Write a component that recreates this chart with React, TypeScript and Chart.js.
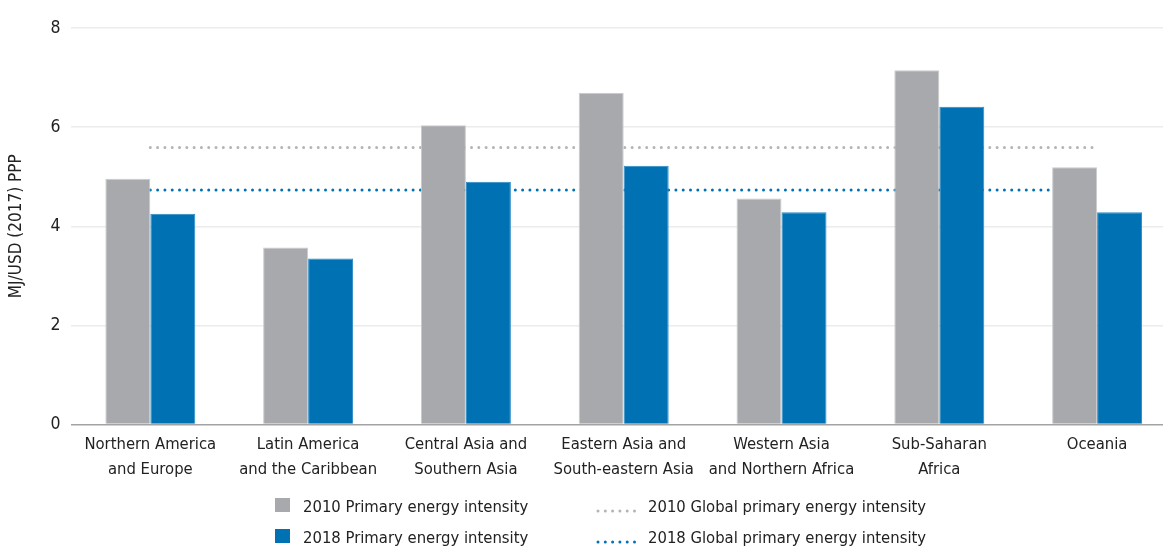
import React, { useEffect, useRef } from "react";
import { Chart, registerables } from "chart.js";

Chart.register(...registerables);

const categories: string[][] = [
  ["Northern America", "and Europe"],
  ["Latin America", "and the Caribbean"],
  ["Central Asia and", "Southern Asia"],
  ["Eastern Asia and", "South-eastern Asia"],
  ["Western Asia", "and Northern Africa"],
  ["Sub-Saharan", "Africa"],
  ["Oceania"],
];

const intensity2010: number[] = [4.96, 3.57, 6.04, 6.69, 4.56, 7.15, 5.19];
const intensity2018: number[] = [4.25, 3.35, 4.9, 5.22, 4.28, 6.41, 4.28];
const global2010: number[] = [5.59, 5.59, 5.59, 5.59, 5.59, 5.59, 5.59];
const global2018: number[] = [4.73, 4.73, 4.73, 4.73, 4.73, 4.73, 4.73];

const yTicks: number[] = [0, 2, 4, 6, 8];

const FONT = '"DejaVu Sans Condensed", "DejaVu Sans", sans-serif';
const GRAY = "#a7a9ac";
const BLUE = "#0072b4";
const DOT_GRAY = "#b4b4b4";
const TEXT = "#222222";

const legendPlugin = {
  id: "customLegend",
  afterDraw(chart: any) {
    const ctx = chart.ctx;
    ctx.save();
    ctx.font = `16.5px ${FONT}`;
    ctx.fillStyle = TEXT;
    ctx.textBaseline = "alphabetic";
    const ds = chart.data.datasets;
    const rows = [512, 543];
    [0, 1].forEach((i, r) => {
      const d = ds[i];
      ctx.fillStyle = d.backgroundColor;
      ctx.fillRect(275, rows[r] - 14, 15, 14);
      ctx.fillStyle = TEXT;
      ctx.fillText(d.label, 303, rows[r]);
    });
    [2, 3].forEach((i, r) => {
      const d = ds[i];
      ctx.save();
      ctx.strokeStyle = d.borderColor;
      ctx.lineWidth = d.borderWidth;
      ctx.lineCap = "round";
      ctx.setLineDash(d.borderDash);
      ctx.beginPath();
      ctx.moveTo(598, rows[r] - 1);
      ctx.lineTo(636, rows[r] - 1);
      ctx.stroke();
      ctx.restore();
      ctx.fillStyle = TEXT;
      ctx.fillText(d.label, 648, rows[r]);
    });
    ctx.restore();
  },
};

export default function App() {
  const ref = useRef<HTMLCanvasElement | null>(null);
  useEffect(() => {
    if (!ref.current) return;
    const chart = new Chart(ref.current, {
      type: "bar",
      data: {
        labels: categories,
        datasets: [
          {
            type: "bar",
            label: "2010 Primary energy intensity",
            data: intensity2010,
            backgroundColor: GRAY,
            borderColor: "#c9cacc",
            borderWidth: 1,
            barPercentage: 1,
            categoryPercentage: 0.57,
            order: 0,
          },
          {
            type: "bar",
            label: "2018 Primary energy intensity",
            data: intensity2018,
            backgroundColor: BLUE,
            borderColor: "#2b8ac4",
            borderWidth: 1,
            barPercentage: 1,
            categoryPercentage: 0.57,
            order: 0,
          },
          {
            type: "line",
            label: "2010 Global primary energy intensity",
            data: global2010,
            borderColor: DOT_GRAY,
            borderWidth: 3,
            borderDash: [0, 7.3],
            borderCapStyle: "round",
            pointRadius: 0,
            fill: false,
            order: 1,
          } as any,
          {
            type: "line",
            label: "2018 Global primary energy intensity",
            data: global2018,
            borderColor: BLUE,
            borderWidth: 3,
            borderDash: [0, 7.3],
            borderCapStyle: "round",
            pointRadius: 0,
            fill: false,
            order: 1,
          } as any,
        ],
      },
      options: {
        responsive: false,
        animation: false,
        layout: { padding: { left: 6, right: 14, top: 28, bottom: 66 } },
        plugins: {
          legend: { display: false },
          tooltip: { enabled: false },
        },
        scales: {
          x: {
            grid: { display: false },
            border: { display: false },
            ticks: {
              color: TEXT,
              font: { family: FONT, size: 16.5, lineHeight: 1.5 },
              padding: 0,
              maxRotation: 0,
              autoSkip: false,
            },
          },
          y: {
            min: 0,
            max: 8,
            afterBuildTicks(axis: any) {
              axis.ticks = yTicks.map((v) => ({ value: v }));
            },
            grid: {
              color: (c: any) => (c.tick && c.tick.value === 0 ? "#a3a3a3" : "#ececec"),
              lineWidth: 1.5,
              drawTicks: false,
            },
            border: { display: false },
            ticks: {
              color: TEXT,
              font: { family: FONT, size: 17.5 },
              padding: 11,
            },
            title: {
              display: true,
              text: "MJ/USD (2017) PPP",
              color: TEXT,
              font: { family: FONT, size: 17 },
              padding: { top: 0, bottom: 13 },
            },
          },
        },
      },
      plugins: [legendPlugin],
    });
    return () => chart.destroy();
  }, []);
  return (
    <div
      style={{
        position: "fixed",
        left: 0,
        top: 0,
        width: 1163,
        height: 548,
        overflow: "hidden",
        background: "#fff",
      }}
    >
      <canvas ref={ref} width={1190} height={548} style={{ display: "block" }} />
    </div>
  );
}
